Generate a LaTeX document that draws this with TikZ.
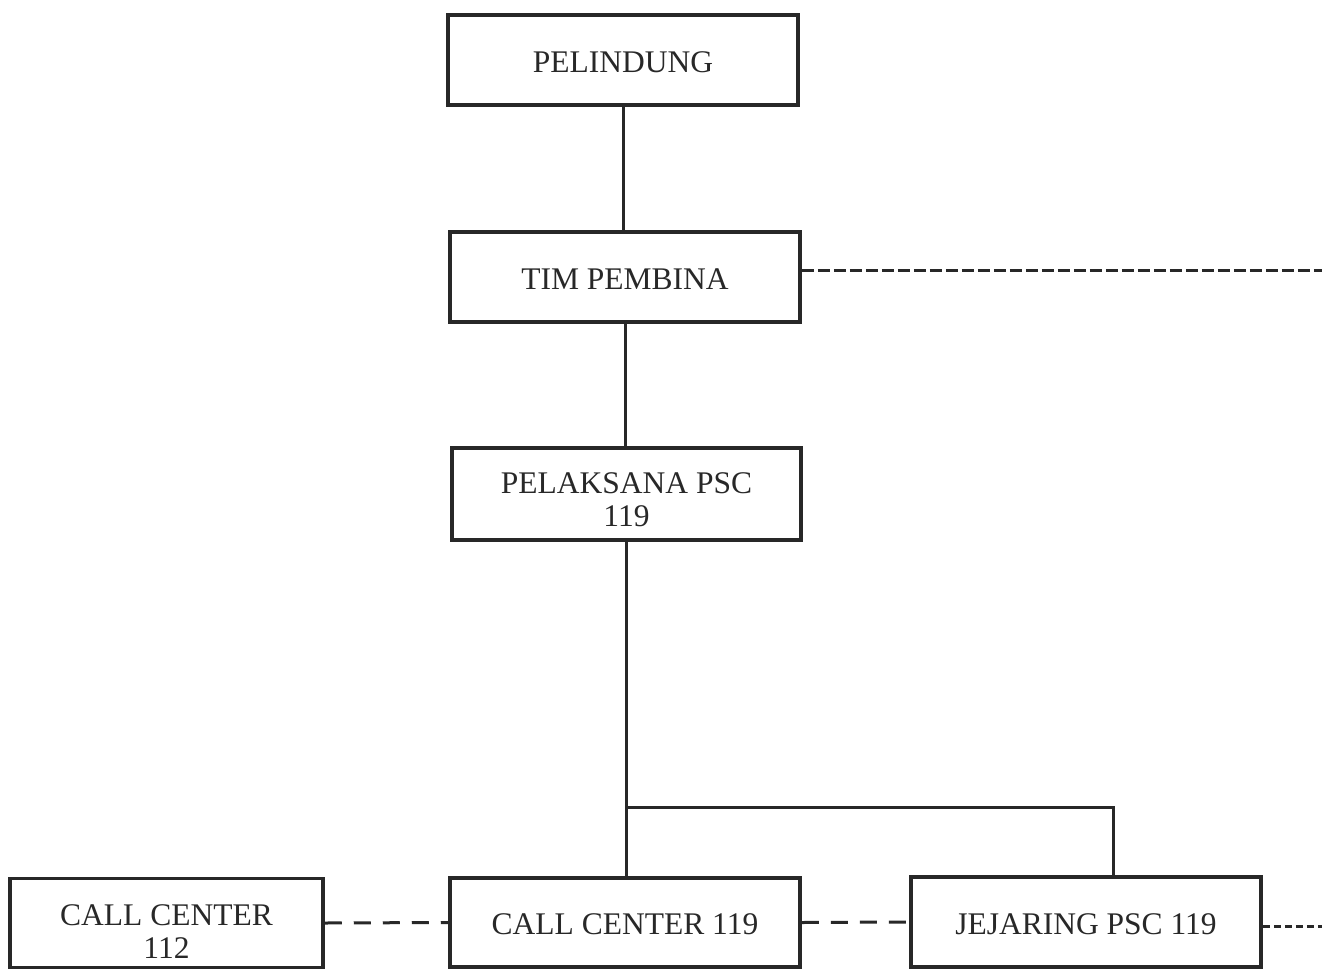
\documentclass[tikz,border=0pt]{standalone}
\usepackage{fontspec}
\setmainfont{Liberation Serif}
\definecolor{ink}{RGB}{40,40,40}
\begin{document}
\begin{tikzpicture}[x=1pt,y=-1pt,
  box/.style={draw=ink,line width=3.5pt,minimum width=350pt,minimum height=90pt,inner sep=0pt},
  txt/.style={inner sep=0pt,align=center,text=ink,font=\fontsize{31.5}{33}\selectfont,yshift=-2pt},
  txttwo/.style={txt,yshift=-4pt},
  conn/.style={draw=ink,line width=3pt},
  dline/.style={draw=ink,line width=3pt,dash pattern=on 17pt off 12pt},
  dtop/.style={draw=ink,line width=3pt,dash pattern=on 12pt off 4pt},
  dsmall/.style={draw=ink,line width=3pt,dash pattern=on 7pt off 4pt}]
\useasboundingbox (0,0) rectangle (1322,969);
\fill[white] (0,0) rectangle (1322,969);
\node[box] (pel) at (623,60) {};
\node[box] (tim) at (625,277) {};
\node[box,minimum width=349pt,minimum height=92pt] (pks) at (626.5,494) {};
\node[box,minimum height=89pt] (cc119) at (625,922.5) {};
\node[box] (jej) at (1086,922) {};
\node[box,minimum width=313pt,minimum height=89pt] (cc112) at (166.5,923) {};
\node[txt] (pelT) at (pel.center) {PELINDUNG};
\node[txt] (timT) at (tim.center) {TIM PEMBINA};
\node[txttwo] (pksT) at (pks.center) {PELAKSANA PSC\\119};
\node[txt] (cc119T) at (cc119.center) {CALL CENTER 119};
\node[txt] (jejT) at (jej.center) {JEJARING PSC 119};
\node[txttwo,yshift=-3pt] (cc112T) at (cc112.center) {CALL CENTER\\112};
\coordinate (j) at (625,807);
\coordinate (jr) at (1113,807);
\coordinate (timR) at (1322,270);
\coordinate (jejR) at (1322,926);
\draw[conn] (pel.south) -- (pel.south |- tim.north);
\draw[conn] (tim.south) -- (tim.south |- pks.north);
\draw[conn] (pks.south) -- (pks.south |- cc119.north);
\draw[conn] (j) -- (jr) -- (jr |- jej.north);
\draw[dtop] (tim.east |- timR) -- (timR);
\draw[dline] (cc112.east) -- (cc119.west);
\draw[dline] (cc119.east) -- (jej.west);
\draw[dsmall] (jej.east |- jejR) -- (jejR);
\end{tikzpicture}
\end{document}
